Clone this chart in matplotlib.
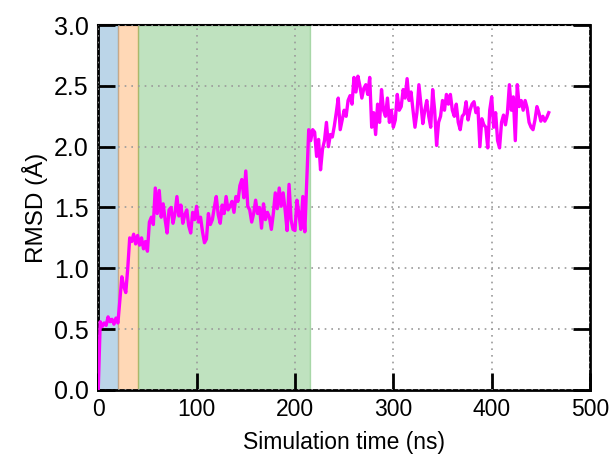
import numpy as np
import matplotlib
matplotlib.use("Agg")
import matplotlib.pyplot as plt

plt.rcParams["font.family"] = ["Liberation Sans", "DejaVu Sans"]

# sampling every 2 ns
STEP_NS = 2
rmsd = [
    0.0, 0.56, 0.52, 0.55, 0.53, 0.60, 0.56, 0.58, 0.54, 0.59, 0.55,
    0.74, 0.93, 0.85, 0.80, 1.00, 1.25, 1.22, 1.28, 1.20, 1.27,
    1.19, 1.25, 1.16, 1.22, 1.14, 1.38, 1.42, 1.36, 1.66, 1.45,
    1.64, 1.42, 1.53, 1.40, 1.29, 1.48, 1.50, 1.37, 1.45, 1.59,
    1.43, 1.52, 1.37, 1.44, 1.48, 1.35, 1.29, 1.46, 1.40, 1.51,
    1.38, 1.42, 1.30, 1.21, 1.24, 1.45, 1.36, 1.40, 1.50, 1.59,
    1.44, 1.37, 1.52, 1.45, 1.59, 1.48, 1.51, 1.55, 1.46, 1.59,
    1.55, 1.68, 1.73, 1.58, 1.80, 1.51, 1.48, 1.38, 1.45, 1.56,
    1.45, 1.50, 1.33, 1.53, 1.40, 1.46, 1.42, 1.32, 1.45, 1.62,
    1.49, 1.66, 1.51, 1.62, 1.48, 1.31, 1.69, 1.40, 1.32, 1.31,
    1.56, 1.45, 1.32, 1.59, 1.30, 1.73, 2.14, 2.05, 2.14, 2.12,
    1.92, 2.06, 1.81, 1.98, 2.05, 2.20, 2.00, 2.10, 2.08, 2.17,
    2.28, 2.40, 2.14, 2.22, 2.30, 2.25, 2.38, 2.42, 2.35, 2.57,
    2.45, 2.58, 2.50, 2.40, 2.48, 2.51, 2.43, 2.57, 2.16, 2.28,
    2.10, 2.35, 2.20, 2.47, 2.30, 2.25, 2.40, 2.20, 2.30, 2.16,
    2.22, 2.43, 2.30, 2.33, 2.47, 2.40, 2.56, 2.38, 2.45, 2.30,
    2.16, 2.28, 2.51, 2.35, 2.19, 2.30, 2.38, 2.25, 2.16, 2.47,
    2.30, 2.01, 2.20, 2.25, 2.38, 2.30, 2.43, 2.35, 2.43, 2.30,
    2.25, 2.35, 2.20, 2.14, 2.25, 2.27, 2.37, 2.22, 2.30, 2.35,
    2.37, 2.28, 2.32, 2.00, 2.23, 2.18, 2.16, 1.99, 2.30, 2.41,
    2.16, 2.28, 2.05, 1.99, 2.20, 2.26, 2.18, 2.28, 2.51, 2.30,
    2.41, 2.05, 2.51, 2.33, 2.38, 2.30, 2.38, 2.32, 2.20, 2.16,
    2.14, 2.22, 2.33, 2.28, 2.21, 2.25, 2.21, 2.24, 2.28,
]
time_ns = np.arange(len(rmsd)) * STEP_NS

# shaded stages (start, end, colour)
stages = [(0, 20, "tab:blue"), (20, 40, "tab:orange"), (40, 215, "tab:green")]

fig = plt.figure(figsize=(6.14, 4.57), dpi=100)
ax = fig.add_axes([0.160, 0.147, 0.801, 0.798])

for s, e, c in stages:
    ax.axvspan(s, e, color=c, alpha=0.3, lw=1, zorder=0)

ax.grid(True, ls=(0, (1, 3)), color="#9a9a9a", lw=1.2, zorder=1)
ax.plot(time_ns, rmsd, color="magenta", lw=2.4, zorder=3)

ax.set_xlim(0, 500)
ax.set_ylim(0, 3.0)
ax.set_xticks(np.arange(0, 501, 100))
ax.set_yticks(np.arange(0, 3.01, 0.5))
ax.set_yticklabels([f"{v:.1f}" for v in np.arange(0, 3.01, 0.5)])
ax.tick_params(direction="in", length=12, width=2, labelsize=16.5, right=True)
ax.tick_params(axis="y", pad=7, labelsize=18)
ax.tick_params(axis="x", pad=6)
ax.set_axisbelow(False)

for side in ["left", "bottom", "right"]:
    ax.spines[side].set_linewidth(2)
ax.spines["top"].set_linewidth(1.5)

ax.set_xlabel("Simulation time (ns)", fontsize=16.5, labelpad=7)
ax.set_ylabel("RMSD (Å)", fontsize=17.5, labelpad=4)

fig.savefig("out.png", dpi=100)
